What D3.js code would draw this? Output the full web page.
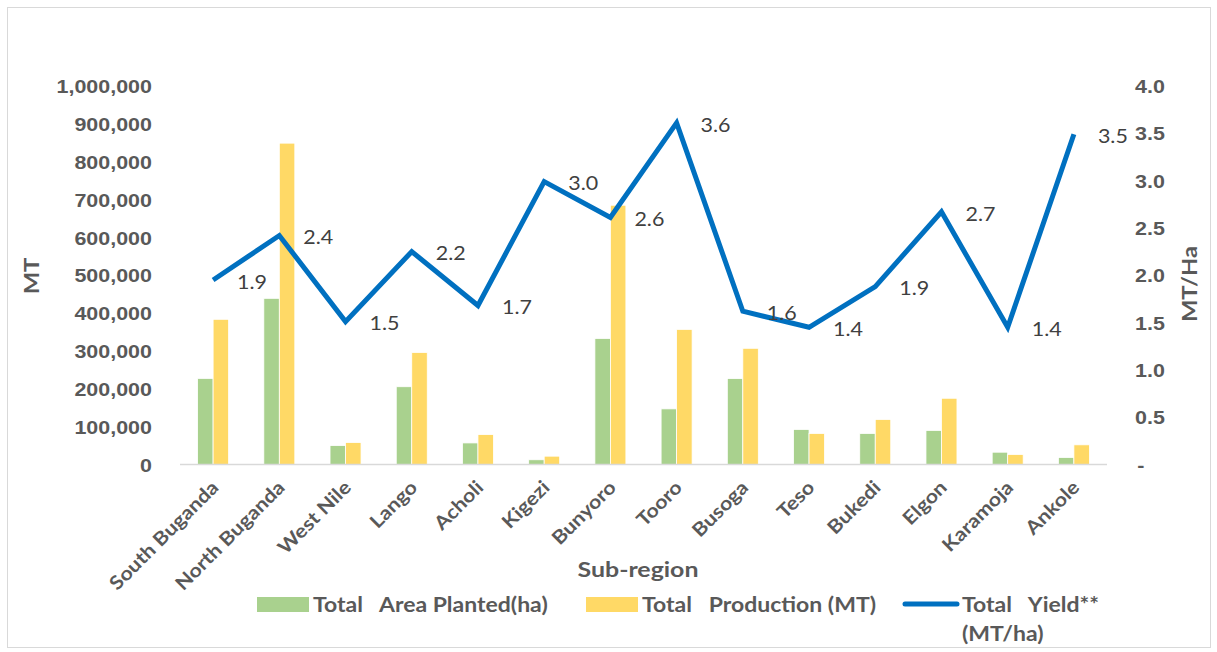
<!DOCTYPE html>
<html><head><meta charset="utf-8">
<script src="https://cdn.jsdelivr.net/npm/d3@7"></script>
<style>
html,body{margin:0;padding:0;background:#fff;}
svg{display:block;font-family:Lato,"Open Sans",sans-serif;}
</style></head>
<body><svg id="c" width="1217" height="652"></svg>
<script>
const categories = ["South Buganda","North Buganda","West Nile","Lango","Acholi","Kigezi","Bunyoro","Tooro","Busoga","Teso","Bukedi","Elgon","Karamoja","Ankole"];
const areaPlanted = [227500,439000,50000,205500,57000,12500,333000,147000,227000,92600,82000,90000,32500,18500];
const production = [383600,849000,58000,296000,79000,22000,685000,357000,307000,82000,119000,175000,26500,52000];
const yieldVals = [1.95,2.42,1.51,2.25,1.68,2.99,2.61,3.61,1.62,1.45,1.88,2.67,1.45,3.49];
const yieldLabels = ["1.9","2.4","1.5","2.2","1.7","3.0","2.6","3.6","1.6","1.4","1.9","2.7","1.4","3.5"];
const leftTicks = [0,100000,200000,300000,400000,500000,600000,700000,800000,900000,1000000];
const rightTicks = [0,0.5,1.0,1.5,2.0,2.5,3.0,3.5,4.0];
const seriesNames = ["Total   Area Planted(ha)","Total   Production (MT)","Total   Yield**","(MT/ha)"];

const SX = 1.13;
const svg = d3.select("#c");
const L=180, R=1107, T=86, B=464.5;
svg.append("rect").attr("x",7.5).attr("y",7.5).attr("width",1203).attr("height",640)
  .attr("fill","#fff").attr("stroke","#d9d9d9").attr("stroke-width",1);

const x = d3.scaleBand().domain(categories).range([L,R]);
const x1 = d3.scaleBand().domain(["a","p"]).range([0,31]);
const yL = d3.scaleLinear().domain([0,1000000]).range([B,T]);
const yR = d3.scaleLinear().domain([0,4]).range([B,T]);

// bars
const g = svg.append("g");
categories.forEach((c,i)=>{
  const cx = x(c)+x.bandwidth()/2 - 15.5;
  g.append("rect").attr("x",cx+x1("a")).attr("width",x1.bandwidth())
    .attr("y",yL(areaPlanted[i])).attr("height",B-yL(areaPlanted[i]))
    .attr("fill","#A9D18E").attr("stroke","#fff").attr("stroke-width",0.8);
  g.append("rect").attr("x",cx+x1("p")).attr("width",x1.bandwidth())
    .attr("y",yL(production[i])).attr("height",B-yL(production[i]))
    .attr("fill","#FFD966").attr("stroke","#fff").attr("stroke-width",0.8);
});

// baseline
svg.append("line").attr("x1",L).attr("x2",R).attr("y1",B).attr("y2",B)
  .attr("stroke","#d9d9d9").attr("stroke-width",1.5);

// left axis
const axL = d3.axisLeft(yL).tickValues(leftTicks).tickSize(0).tickPadding(0).tickFormat(d3.format(","));
const gl = svg.append("g").attr("transform",`translate(152,0)`).call(axL);
gl.select(".domain").remove();
gl.selectAll("text").attr("x",0).attr("fill","#595959").style("font-size","19px").style("font-weight","bold")
  .attr("dy","0.35em").attr("transform",`scale(${SX},1)`);

// right axis
const axR = d3.axisRight(yR).tickValues(rightTicks).tickSize(0).tickPadding(0)
  .tickFormat(d=> d===0 ? "-" : d3.format(".1f")(d));
const gr = svg.append("g").attr("transform",`translate(1135,0)`).call(axR);
gr.select(".domain").remove();
gr.selectAll("text").attr("x",0).attr("fill","#595959").style("font-size","19px").style("font-weight","bold")
  .attr("dy","0.35em").attr("transform",`scale(${SX},1)`);
gr.selectAll(".tick").filter(d=>d===0).select("text").attr("x",2);

// x axis labels
const gx = svg.append("g");
categories.forEach(c=>{
  const cx = x(c)+x.bandwidth()/2;
  gx.append("text").attr("transform",`translate(${cx+2},${484}) rotate(-45) scale(${SX},1)`)
    .attr("text-anchor","end").attr("dy","0.35em")
    .attr("fill","#595959").style("font-size","19px").style("font-weight","bold").text(c);
});

// axis titles
svg.append("text").attr("transform",`translate(39,276) rotate(-90) scale(${SX},1)`).attr("text-anchor","middle")
  .attr("fill","#595959").style("font-size","21px").style("font-weight","bold").text("MT");
svg.append("text").attr("transform",`translate(1197,284) rotate(-90) scale(${SX},1)`).attr("text-anchor","middle")
  .attr("fill","#595959").style("font-size","21px").style("font-weight","bold").text("MT/Ha");
svg.append("text").attr("transform",`translate(638,577) scale(${SX*1.05},1)`).attr("text-anchor","middle")
  .attr("fill","#595959").style("font-size","21px").style("font-weight","bold").text("Sub-region");

// line
const line = d3.line().x((d,i)=>x(categories[i])+x.bandwidth()/2).y(d=>yR(d));
svg.append("path").datum(yieldVals).attr("d",line).attr("fill","none")
  .attr("stroke","#0070C0").attr("stroke-width",5).attr("stroke-linejoin","miter");

// data labels
svg.append("g").selectAll("text").data(yieldVals).join("text")
  .attr("transform",(d,i)=>`translate(${x(categories[i])+x.bandwidth()/2+24},${yR(d)+2}) scale(${SX},1)`)
  .attr("dy","0.35em").attr("fill","#404040").style("font-size","19px")
  .text((d,i)=>yieldLabels[i]);

// legend
const lg = svg.append("g").style("font-size","20px").style("font-weight","bold").attr("fill","#595959");
const LS = 1.15;
lg.append("rect").attr("x",257).attr("y",597).attr("width",52).attr("height",15).attr("fill","#A9D18E");
lg.append("text").attr("transform",`translate(313,605) scale(${LS},1)`).attr("dy","0.35em").style("white-space","pre").text(seriesNames[0]);
lg.append("rect").attr("x",586).attr("y",597).attr("width",52).attr("height",15).attr("fill","#FFD966");
lg.append("text").attr("transform",`translate(642,605) scale(${LS},1)`).attr("dy","0.35em").style("white-space","pre").text(seriesNames[1]);
lg.append("line").attr("x1",905).attr("x2",957).attr("y1",604).attr("y2",604)
  .attr("stroke","#0070C0").attr("stroke-width",5).attr("stroke-linecap","round");
lg.append("text").attr("transform",`translate(962,605) scale(${LS},1)`).attr("dy","0.35em").style("white-space","pre").text(seriesNames[2]);
lg.append("text").attr("transform",`translate(962,634) scale(${LS},1)`).attr("dy","0.35em").style("white-space","pre").text(seriesNames[3]);
</script></body></html>
